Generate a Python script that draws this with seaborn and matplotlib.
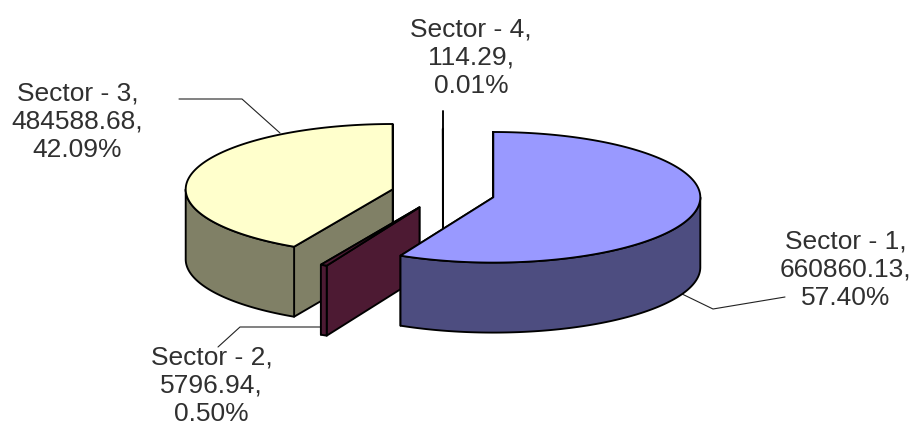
import matplotlib
matplotlib.use("Agg")
import matplotlib.pyplot as plt
import numpy as np
import seaborn as sns

sectors = ["Sector - 1", "Sector - 2", "Sector - 3", "Sector - 4"]
amounts = [660860.13, 5796.94, 484588.68, 114.29]

top_colors = ["#9999FF", "#4D1A33", "#FFFFCC", "#CCFFFF"]
side_colors = ["#4D4D80", "#4D1A33", "#808066", "#668080"]

# Exploded centre of each slice, in pixels
centers = [(493.3, 197.3), (419.5, 207.3), (392.7, 189.3), (443, 194)]
draw_order = [2, 3, 1, 0]
label_pos = [(845.5, 270), (211.5, 386), (77.5, 122), (471, 58)]
leaders = [
    [(680, 293), (713, 309), (785, 297)],
    [(218, 347), (240, 327), (322, 327)],
    [(179, 99), (242, 99), (280, 133)],
    [(443, 111), (443, 130)],
]

RX, RY, DEPTH = 207, 65.3, 70
EDGE = 1.35

sns.set_theme(style="white")
plt.rcParams["font.family"] = ["Liberation Sans", "DejaVu Sans"]


def rim(center, a, b, n=120):
    """Points on the ellipse, angle clockwise from 12 o'clock"""
    t = np.radians(np.linspace(a, b, n))
    return np.column_stack([center[0] + RX * np.sin(t), center[1] - RY * np.cos(t)])


def draw_slice(ax, center, a, b, top, side):
    down = np.array([0, DEPTH])
    c = np.array(center)

    # Radial faces first, wall and top paint over the hidden ones
    for ang in (b, a):
        p = rim(center, ang, ang, 1)[0]
        ax.fill(*np.array([c, p, p + down, c + down]).T, facecolor=side,
                edgecolor="black", linewidth=EDGE, joinstyle="round")

    # Outer wall, only the front half can be seen
    lo, hi = max(a, 90), min(b, 270)
    if lo < hi:
        arc = rim(center, lo, hi)
        wall = np.vstack([arc, (arc + down)[::-1]])
        ax.fill(*wall.T, facecolor=side, edgecolor="black", linewidth=EDGE,
                joinstyle="round")

    face = np.vstack([c, rim(center, a, b, 300)])
    ax.fill(*face.T, facecolor=top, edgecolor="black", linewidth=EDGE,
            joinstyle="round")


fig, ax = plt.subplots(figsize=(9.15, 4.26), dpi=100)
ax.set_position([0, 0, 1, 1])
ax.set_xlim(0, 915)
ax.set_ylim(426, 0)
ax.axis("off")

total = sum(amounts)
edges = np.concatenate([[0], np.cumsum(amounts) / total * 360])

for i in draw_order:
    draw_slice(ax, centers[i], edges[i], edges[i + 1], top_colors[i], side_colors[i])

for i, path in enumerate(leaders):
    xs, ys = zip(*path)
    # the thin slice leader runs into the slice edge and is heavier
    ax.plot(xs, ys, color="#222222" if i != 3 else "black",
            linewidth=0.8 if i != 3 else EDGE, zorder=0.5)

for name, val, (x, y) in zip(sectors, amounts, label_pos):
    ax.text(x, y, f"{name},\n{val:.2f},\n{val / total * 100:.2f}%", ha="center",
            va="center", fontsize=19, color="#303030", linespacing=1.22, clip_on=False)

fig.savefig("out.png", dpi=100)
plt.close(fig)
